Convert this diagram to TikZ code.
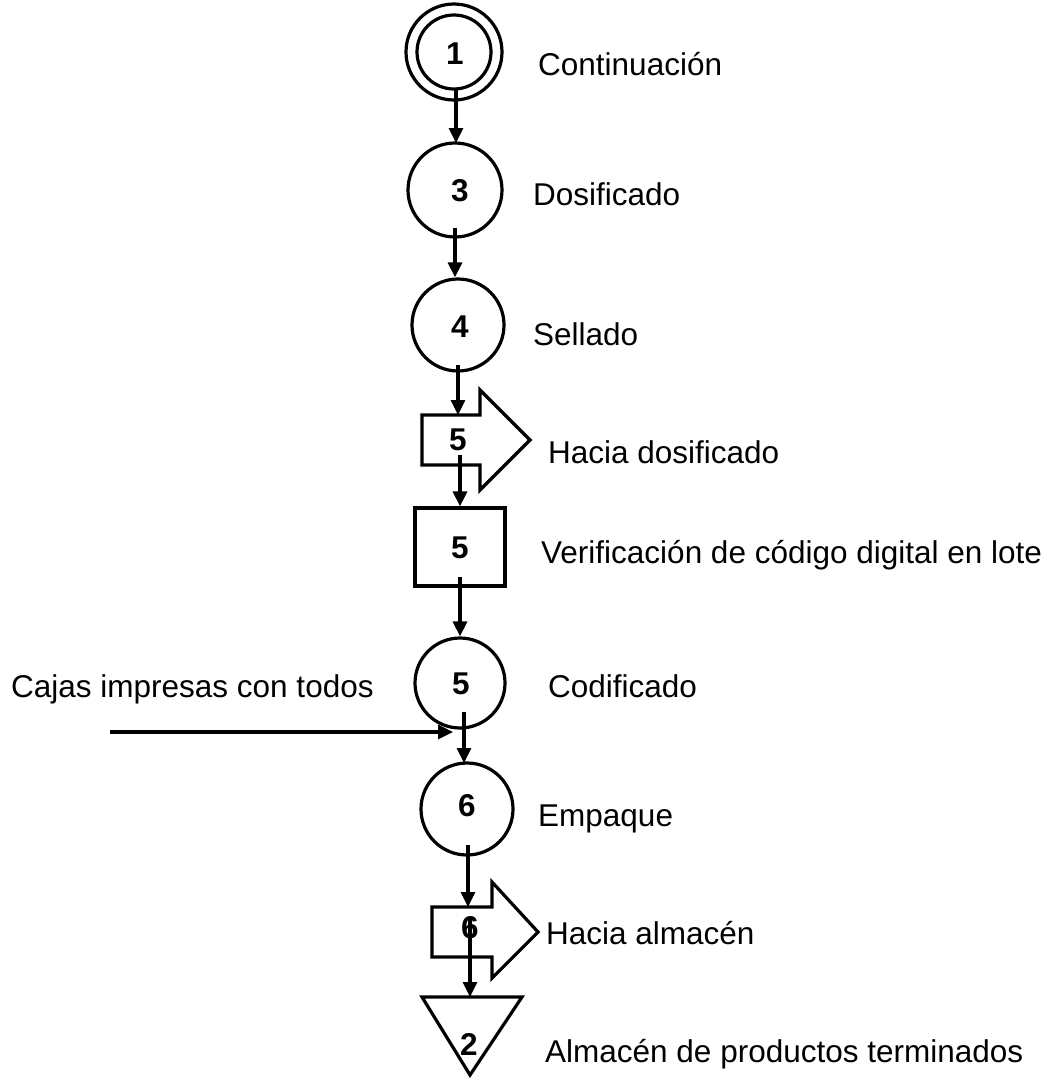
\documentclass[tikz,border=0pt]{standalone}
\usepackage{fontspec}
\setmainfont{Liberation Sans}
\usetikzlibrary{arrows.meta,shapes.geometric}
\begin{document}
\begin{tikzpicture}[x=1pt,y=-1pt,
  lw/.style={line width=3.2pt},
  circ/.style={circle,draw,line width=3.2pt,inner sep=0pt},
  num/.style={inner sep=0pt,font=\fontsize{31.5}{36}\selectfont\bfseries},
  lbl/.style={anchor=base west,inner sep=0pt,font=\fontsize{31.5}{36}\selectfont},
  conn/.style={line width=3.2pt,-{Triangle[length=15pt,width=14pt]}}]
\useasboundingbox (0,0) rectangle (1060,1081);
% shapes
\node[circ,minimum size=74pt] (c1) at (454,52) {};
\draw[lw] (c1.center) circle (48);
\node[num] (n1) at (455,54) {1};
\node[circ,minimum size=94pt] (c3) at (455,190) {};
\node[num] (n3) at (460,191) {3};
\node[circ,minimum size=92pt] (c4) at (458,325) {};
\node[num] (n4) at (460,327) {4};
\node[num] (a5) at (458,440) {5};
\draw[lw,line join=miter] (422,415) -- (480,415) -- (480,390) -- (530,440) -- (480,490) -- (480,465) -- (422,465) -- cycle;
\coordinate (a5top) at (458,415);
\node[draw,line width=3.2pt,minimum width=90pt,minimum height=78pt,inner sep=0pt] (sq) at (460,547) {};
\node[num] (n5s) at (460,548) {5};
\node[circ,minimum size=90pt] (c5) at (460,683) {};
\node[num] (n5c) at (461,684) {5};
\node[circ,minimum size=92pt] (c6) at (467,809) {};
\node[num] (n6) at (467,806) {6};
\node[num] (a6) at (470,928) {6};
\draw[lw,line join=miter] (432,907) -- (492,907) -- (492,882) -- (538,932) -- (492,978) -- (492,957) -- (432,957) -- cycle;
\coordinate (a6top) at (468,907);
\coordinate (tritop) at (470,997);
\draw[lw,line join=miter] (422,997) -- (522,997) -- (470,1075) -- cycle;
\node[num] (t2) at (469,1044) {2};
% labels
\node[lbl] (l1) at (538,75) {Continuación};
\node[lbl] (l3) at (533,205) {Dosificado};
\node[lbl] (l4) at (533,345) {Sellado};
\node[lbl] (l5a) at (548,463) {Hacia dosificado};
\node[lbl] (l5s) at (541,563) {Verificación de código digital en lote};
\node[lbl] (l5c) at (548,697) {Codificado};
\node[lbl] (lcaj) at (11,697) {Cajas impresas con todos};
\node[lbl] (l6) at (538,826) {Empaque};
\node[lbl] (l6a) at (546,944) {Hacia almacén};
\node[lbl] (l2) at (545,1062) {Almacén de productos terminados};
% connectors
\draw[conn] (456,88) -- (456,143);
\draw[conn] ([yshift=11pt]c3.south) -- (c3.south |- c4.north);
\draw[conn] (458,365) -- (a5top);
\draw[conn] (460,455) -- (sq.north);
\draw[conn] (460,577) -- (c5.north);
\coordinate (src) at (110,732);
\coordinate (dst) at (453,732);
\draw[conn] (src) -- (dst);
\draw[conn] (464,712) -- (464,763);
\draw[conn] (468,845) -- (a6top);
\draw[conn] (470,918) -- (tritop);
\end{tikzpicture}
\end{document}
